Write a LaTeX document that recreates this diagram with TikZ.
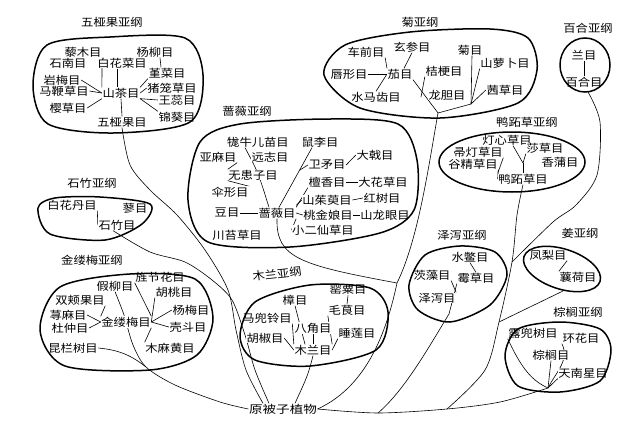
\documentclass[tikz,border=0pt]{standalone}
\usepackage{fontspec}
\newfontfamily\cjk{Noto Sans CJK SC}
\usetikzlibrary{backgrounds}
\begin{document}
\begin{tikzpicture}[x=1pt,y=-1pt,
  lbl/.style={inner sep=0.4pt, fill=white, font=\cjk\fontsize{11}{12}\selectfont, xscale=1.12},
  conn/.style={line width=0.6pt, line join=round},
  blob/.style={line width=1.5pt},
]
\useasboundingbox (0,0) rectangle (640,423);

% ---------- 五桠果亚纲 ----------
\node[lbl] (t1) at (112,22) {五桠果亚纲};
\node[lbl] (a1) at (83,52) {藜木目};
\node[lbl] (a2) at (155,52) {杨柳目};
\node[lbl] (a3) at (68,63) {石南目};
\node[lbl] (a4) at (122,63) {白花菜目};
\node[lbl] (a5) at (167,73) {堇菜目};
\node[lbl] (a6) at (62,80) {岩梅目};
\node[lbl] (a7) at (172,88) {猪笼草目};
\node[lbl] (a8) at (64,91) {马鞭草目};
\node[lbl] (a9) at (121,93) {山茶目};
\node[lbl] (a10) at (177,100) {王蕊目};
\node[lbl] (a11) at (68,108) {樱草目};
\node[lbl] (a12) at (177,117) {锦葵目};
\node[lbl] (a13) at (122,122) {五桠果目};
\draw[blob] plot[smooth cycle] coordinates {(33,86) (47,45) (110,37) (185,38) (203,75) (190,122) (113,133) (48,124)};

% ---------- 石竹亚纲 ----------
\node[lbl] (t2) at (92,183) {石竹亚纲};
\node[lbl] (b1) at (72,205) {白花丹目};
\node[lbl] (b2) at (135,208) {蓼目};
\node[lbl] (b3) at (117,225) {石竹目};
\draw[blob] plot[smooth cycle] coordinates {(38,208) (55,198) (100,197) (150,204) (142,224) (105,240) (50,234)};

% ---------- 金缕梅亚纲 ----------
\node[lbl] (t3) at (92,260) {金缕梅亚纲};
\node[lbl] (c1) at (115,286) {假柳目};
\node[lbl] (c2) at (160,277) {旌节花目};
\node[lbl] (c3) at (80,300) {双颊果目};
\node[lbl] (c4) at (174,292) {胡桃目};
\node[lbl] (c5) at (68,315) {荨麻目};
\node[lbl] (c6) at (126,322) {金缕梅目};
\node[lbl] (c7) at (191,310) {杨梅目};
\node[lbl] (c8) at (188,327) {壳斗目};
\node[lbl] (c9) at (70,328) {杜仲目};
\node[lbl] (c10) at (73,348) {昆栏树目};
\node[lbl] (c11) at (170,348) {木麻黄目};
\draw[blob] plot[smooth cycle] coordinates {(40,330) (60,287) (130,274) (195,279) (213,318) (197,355) (150,370) (65,366)};

% ---------- 蔷薇亚纲 ----------
\node[lbl] (t4) at (247,111) {蔷薇亚纲};
\node[lbl] (d1) at (258,142) {牻牛儿苗目};
\node[lbl] (d2) at (320,142) {鼠李目};
\node[lbl] (d3) at (218,157) {亚麻目};
\node[lbl] (d4) at (270,157) {远志目};
\node[lbl] (d5) at (375,155) {大戟目};
\node[lbl] (d6) at (327,165) {卫矛目};
\node[lbl] (d7) at (253,175) {无患子目};
\node[lbl] (d8) at (327,182) {檀香目};
\node[lbl] (d9) at (383,182) {大花草目};
\node[lbl] (d10) at (230,192) {伞形目};
\node[lbl] (d11) at (327,200) {山茱萸目};
\node[lbl] (d12) at (382,198) {红树目};
\node[lbl] (d13) at (227,213) {豆目};
\node[lbl] (d14) at (277,213) {蔷薇目};
\node[lbl] (d15) at (328,215) {桃金娘目};
\node[lbl] (d16) at (385,215) {山龙眼目};
\node[lbl] (d17) at (323,230) {小二仙草目};
\node[lbl] (d18) at (237,235) {川苔草目};
\draw[blob] plot[smooth cycle] coordinates {(188,200) (200,142) (240,124) (330,119) (398,124) (417,160) (414,210) (380,233) (290,247) (208,242)};

% ---------- 菊亚纲 ----------
\node[lbl] (t5) at (420,22) {菊亚纲};
\node[lbl] (e1) at (366,52) {车前目};
\node[lbl] (e2) at (412,47) {玄参目};
\node[lbl] (e3) at (470,50) {菊目};
\node[lbl] (e4) at (349,74) {唇形目};
\node[lbl] (e5) at (400,74) {茄目};
\node[lbl] (e6) at (444,71) {桔梗目};
\node[lbl] (e7) at (505,63) {山萝卜目};
\node[lbl] (e8) at (376,97) {水马齿目};
\node[lbl] (e9) at (447,95) {龙胆目};
\node[lbl] (e10) at (505,90) {茜草目};
\draw[blob] plot[smooth cycle] coordinates {(324,75) (345,45) (410,32) (490,29) (528,38) (537,70) (518,103) (440,118) (360,108)};

% ---------- 百合亚纲 ----------
\node[lbl] (t6) at (588,28) {百合亚纲};
\node[lbl] (f1) at (584,55) {兰目};
\node[lbl] (f2) at (584,82) {百合目};
\draw[blob] (585,65) ellipse[x radius=25, y radius=27];

% ---------- 鸭跖草亚纲 ----------
\node[lbl] (t7) at (527,122) {鸭跖草亚纲};
\node[lbl] (g1) at (507,140) {灯心草目};
\node[lbl] (g2) at (478,152) {帚灯草目};
\node[lbl] (g3) at (545,148) {莎草目};
\node[lbl] (g4) at (473,164) {谷精草目};
\node[lbl] (g5) at (560,162) {香蒲目};
\node[lbl] (g6) at (523,179) {鸭跖草目};
\draw[blob] (512,162) ellipse[x radius=73, y radius=30];

% ---------- 泽泻亚纲 ----------
\node[lbl] (t8) at (462,235) {泽泻亚纲};
\node[lbl] (h1) at (470,257) {水鳖目};
\node[lbl] (h2) at (432,275) {茨藻目};
\node[lbl] (h3) at (476,278) {霉草目};
\node[lbl] (h4) at (437,298) {泽泻目};
\draw[blob] plot[smooth cycle] coordinates {(409,285) (425,255) (460,246) (495,252) (507,275) (490,305) (450,322) (418,310)};

% ---------- 姜亚纲 ----------
\node[lbl] (t9) at (580,233) {姜亚纲};
\node[lbl] (i1) at (548,255) {凤梨目};
\node[lbl] (i2) at (578,277) {蘘荷目};
\draw[blob, rotate around={-18:(562,269)}] (562,269) ellipse[x radius=40, y radius=20];

% ---------- 棕榈亚纲 ----------
\node[lbl] (t10) at (578,312) {棕榈亚纲};
\node[lbl] (j1) at (533,333) {露兜树目};
\node[lbl] (j2) at (581,338) {环花目};
\node[lbl] (j3) at (551,355) {棕榈目};
\node[lbl] (j4) at (583,373) {天南星目};
\draw[blob] plot[smooth cycle] coordinates {(505,356) (518,329) (560,322) (600,329) (611,350) (600,381) (560,392) (518,386)};

% ---------- 木兰亚纲 ----------
\node[lbl, rotate=7] (t11) at (277,274) {木兰亚纲};
\node[lbl] (k1) at (348,290) {罂粟目};
\node[lbl] (k2) at (295,300) {樟目};
\node[lbl] (k3) at (347,310) {毛茛目};
\node[lbl] (k4) at (267,318) {马兜铃目};
\node[lbl] (k5) at (313,328) {八角目};
\node[lbl] (k6) at (357,333) {睡莲目};
\node[lbl] (k7) at (265,338) {胡椒目};
\node[lbl] (k8) at (313,350) {木兰目};
\draw[blob] plot[smooth cycle] coordinates {(240,336) (255,302) (310,285) (370,288) (388,312) (376,350) (310,366) (255,360)};

% ---------- root ----------
\node[lbl, xscale=1.1] (root) at (283,409) {原被子植物};

% ---------- junctions ----------
\coordinate (J1) at (438,113);
\coordinate (K) at (471,104);
\coordinate (Q1) at (421,97);
\coordinate (J2) at (397,283);
\coordinate (Y) at (523,163);
\coordinate (J3) at (512,262);
\coordinate (J5) at (499,322);
\coordinate (J6) at (447,409);
\coordinate (J7) at (378,413);
\coordinate (J4) at (449,314);
\coordinate (P) at (548,388);
\coordinate (Gi) at (563,291);
\coordinate (Bh) at (588,92);
\coordinate (Wq) at (300,170);
\coordinate (Kl) at (146,367);

\begin{scope}[on background layer]
% 五桠果
\draw[conn] (a1.south east) -- (a9.north west);
\draw[conn] ([xshift=-5]a4.south) -- ([xshift=-4]a9.north);
\draw[conn] ([xshift=5]a2.south) -- ([xshift=-6]a5.north);
\draw[conn] (a5.south west) -- (a9.north east);
\draw[conn] (a6.east) -- (a9.west);
\draw[conn] (a7.west) -- (a9.east);
\draw[conn] (a8.east) -- (a9.west);
\draw[conn] (a11.east) -- (a9.south west);
\draw[conn] (a10.west) -- (a9.south east);
\draw[conn] (a12.north west) -- (a9.south east);
\draw[conn] (a13.north) -- (a9.south);
\draw[conn] plot[smooth] coordinates {(a13.south) (130,165) (150,190) (177,215) (205,250) (228,290) (236,330) (246,370) ([xshift=-20]root.north)};
% 石竹
\draw[conn] (b1.south east) -- (b3.west);
\draw[conn] plot[smooth] coordinates {([xshift=-4]b3.south) (150,252) (185,262) (212,280) (232,300) (245,335) (255,370) ([xshift=-14]root.north)};
% 金缕梅
\draw[conn] (c3.south east) -- (c6.north west);
\draw[conn] (c5.east) -- (c6.west);
\draw[conn] (c9.east) -- (c6.west);
\draw[conn] (c2.south west) -- (c6.north east);
\draw[conn] (c4.south west) -- (c6.east);
\draw[conn] (c7.west) -- (c6.east);
\draw[conn] (c8.west) -- (c6.east);
\draw[conn] (c11.north west) -- (c6.south east);
\draw[conn] plot[smooth] coordinates {(c1.south) (124,315) (133,345) (Kl) (175,385) (220,402) (root.west)};
\draw[conn] (c10.east) .. controls (120,350) and (132,356) .. (Kl);
% 蔷薇
\draw[conn] (d3.south east) -- (d7.north west);
\draw[conn] ([xshift=-13]d1.south) .. controls (258,172) .. ([xshift=-8]d14.north);
\draw[conn] ([xshift=-8]d2.south) -- ([xshift=2]d14.north);
\draw[conn] (d6.west) -- (Wq);
\draw[conn] (d5.west) -- (d6.east);
\draw[conn] (d8.south west) -- (d14.north east);
\draw[conn] (d9.west) -- (d8.east);
\draw[conn] (d11.west) -- ([yshift=2]d14.north east);
\draw[conn] (d12.west) -- (d11.east);
\draw[conn] (d15.west) -- (d14.east);
\draw[conn] (d16.west) -- (d15.east);
\draw[conn] (d17.west) -- (d14.south east);
\draw[conn] (d13.east) -- (d14.west);
\draw[conn] (d10.north east) -- (d7.south west);
\draw[conn] (d14.south) .. controls (276,258) and (300,265) .. (J2);
% 菊
\draw[conn] (e1.south east) -- (e5.north west);
\draw[conn] (e2.south) -- ([xshift=4]e5.north);
\draw[conn] (e4.east) -- (e5.west);
\draw[conn] (e8.north) -- (e5.west);
\draw[conn] (e5.south east) -- (J1);
\draw[conn] (e6.south west) -- (Q1);
\draw[conn] ([xshift=2]e3.south) -- (K);
\draw[conn] (e7.south west) -- (K);
\draw[conn] (e10.west) -- (K);
\draw[conn] (K) -- (J1);
\draw[conn] (J1) .. controls (428,170) and (418,240) .. (J2) .. controls (388,325) and (370,385) .. (root.east);
% 百合
\draw[conn] (f1.south) -- (f2.north);
\draw[conn] plot[smooth] coordinates {(Bh) (600,122) (597,175) (576,205) (553,222) (J3)};
% 鸭跖草
\draw[conn] ([xshift=6]g1.south) -- (Y);
\draw[conn] (g3.south west) -- (Y);
\draw[conn] (Y) -- (g6.north);
\draw[conn] (g2.south east) -- (g6.north west);
\draw[conn] (g4.south east) -- (g6.west);
\draw[conn] plot[smooth] coordinates {(g6.south) (517,215) (J3) (J5) (485,370) (J6)};
% 姜
\draw[conn] (i1.south east) -- (i2.north west);
\draw[conn] (Gi) -- (J5);
% 泽泻
\draw[conn] (h1.south) -- (h3.north);
\draw[conn] (h2.south east) -- (h4.north east);
\draw[conn] (h3.south west) -- (J4) .. controls (430,345) and (405,390) .. (J7);
% bottom line
\draw[conn] plot[smooth] coordinates {(root.east) (J7) (J6) (500,402) (P)};
% 棕榈
\draw[conn] (j1.south west) .. controls (520,365) and (530,380) .. (P);
\draw[conn] (j3.south) -- (P);
\draw[conn] (j2.south west) .. controls (570,360) and (556,372) .. (P);
\draw[conn] (j4.south west) -- (P);
% 木兰
\draw[conn] (k1.south) -- (k3.north);
\draw[conn] (k3.south west) -- (k8.north east);
\draw[conn] (k2.south) -- ([xshift=-8]k8.north);
\draw[conn] (k4.south east) -- (k8.north west);
\draw[conn] (k7.east) -- (k8.west);
\draw[conn] (k5.south) -- (k8.north);
\draw[conn] (k6.south west) -- (k8.east);
\draw[conn] (k8.south) .. controls (308,375) .. ([xshift=12]root.north);
\end{scope}
\end{tikzpicture}
\end{document}
